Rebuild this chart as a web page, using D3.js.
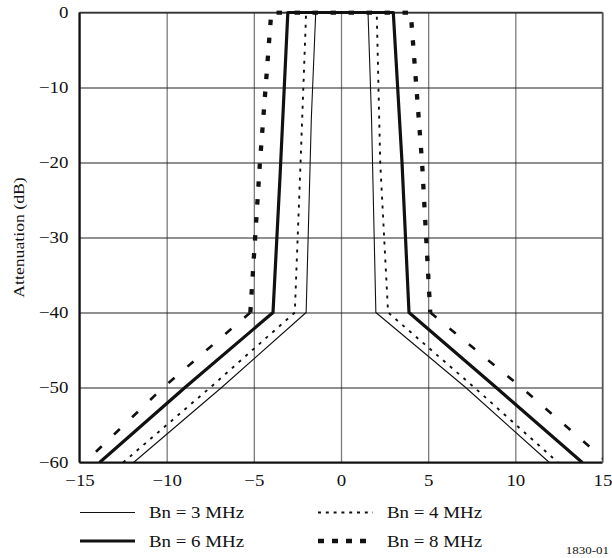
<!DOCTYPE html>
<html>
<head>
<meta charset="utf-8">
<script src="https://cdn.jsdelivr.net/npm/d3@7"></script>
<style>
  body { margin: 0; background: #fff; }
</style>
</head>
<body>
<svg width="612" height="558"></svg>
<script>
// frequency offset (MHz) and attenuation (dB)
var xTicks = [-15, -10, -5, 0, 5, 10, 15];
var yTicks = [0, -10, -20, -30, -40, -50, -60];

var bn3X = [-11.9, -6.85, -2.0, -1.7, -1.45, 1.55, 1.75, 2.0, 7.15, 11.95];
var bn3Y = [-60, -50, -40, -14, 0, 0, -14, -40, -50, -60];

var bn4X = [-12.5, -7.5, -2.65, -2.32, -2.0, 2.05, 2.25, 2.7, 7.65, 12.45];
var bn4Y = [-60, -50, -40, -20, 0, 0, -20, -40, -50, -60];

var bn6X = [-13.85, -8.95, -3.9, -3.5, -3.05, 3.0, 3.5, 3.9, 8.9, 13.84];
var bn6Y = [-60, -50, -40, -22, 0, 0, -20, -40, -50, -60];

var bn8X = [-14.7, -10.2, -5.2, -4.65, -4.0, 4.0, 4.65, 5.12, 10.35, 15.3];
var bn8Y = [-60, -50, -40, -20, 0, 0, -20, -40, -50, -60];

var legendLabels = ["Bn = 3 MHz", "Bn = 4 MHz", "Bn = 6 MHz", "Bn = 8 MHz"];

var FONT = "'Liberation Serif', 'Times New Roman', Times, serif";
var svg = d3.select("svg").style("font-family", FONT);
var pLeft = 79.5, pRight = 602.5, pTop = 12.5, pBottom = 462.5;

var x = d3.scaleLinear().domain([-15, 15]).range([pLeft, pRight]);
var y = d3.scaleLinear().domain([-60, 0]).range([pBottom, pTop]);

function fmt(d) { return d < 0 ? "\u2212" + (-d) : d; }

// grid + tick labels
var gx = svg.append("g")
    .attr("transform", "translate(0," + pBottom + ")")
    .call(d3.axisBottom(x).tickValues(xTicks).tickSize(-(pBottom - pTop)).tickFormat(fmt));
gx.select(".domain").remove();
gx.selectAll("line").attr("stroke", "#7a7a7a").attr("stroke-width", 1.3);
gx.selectAll("text").attr("y", 8).attr("dy", "0.95em").style("font-size", "16px");

var gy = svg.append("g")
    .attr("transform", "translate(" + pLeft + ",0)")
    .call(d3.axisLeft(y).tickValues(yTicks).tickSize(-(pRight - pLeft)).tickFormat(fmt));
gy.select(".domain").remove();
gy.selectAll("line").attr("stroke", "#222").attr("stroke-width", 1.2);
gy.selectAll("text").attr("x", -11).style("font-size", "16px");

// frame
svg.append("line").attr("x1", pLeft).attr("x2", pLeft).attr("y1", pTop).attr("y2", pBottom)
    .attr("stroke", "#111").attr("stroke-width", 2.2);
svg.append("line").attr("x1", pLeft).attr("x2", pRight).attr("y1", pBottom).attr("y2", pBottom)
    .attr("stroke", "#111").attr("stroke-width", 2.2);
svg.append("line").attr("x1", pLeft).attr("x2", pRight).attr("y1", pTop).attr("y2", pTop)
    .attr("stroke", "#333").attr("stroke-width", 1.6);
svg.append("line").attr("x1", pRight).attr("x2", pRight).attr("y1", pTop).attr("y2", pBottom)
    .attr("stroke", "#555").attr("stroke-width", 1.4);

svg.append("text")
    .attr("transform", "translate(24," + ((pTop + pBottom) / 2) + ") rotate(-90)")
    .attr("text-anchor", "middle")
    .style("font-size", "15px")
    .text("Attenuation (dB)");

svg.append("clipPath").attr("id", "plot")
  .append("rect").attr("x", pLeft).attr("y", pTop - 2).attr("width", pRight - pLeft).attr("height", pBottom - pTop + 2);

var line = d3.line().x(function(d) { return x(d[0]); }).y(function(d) { return y(d[1]); });
var plot = svg.append("g").attr("clip-path", "url(#plot)");

function pts(xs, ys, from, to) {
  return d3.range(from, to + 1).map(function(i) { return [xs[i], ys[i]]; });
}

function curve(data, width, dash) {
  plot.append("path").datum(data)
      .attr("d", line)
      .attr("fill", "none")
      .attr("stroke", "#111")
      .attr("stroke-width", width)
      .attr("stroke-dasharray", dash)
      .attr("stroke-linejoin", "round");
}

curve(pts(bn3X, bn3Y, 0, 9), 1.1, null);
curve(pts(bn4X, bn4Y, 0, 9), 1.9, "3,6");
curve(pts(bn6X, bn6Y, 0, 9), 3.2, null);
// 8 MHz: heavy blocks on the steep part, lighter dashes on the skirts
curve(pts(bn8X, bn8Y, 2, 7), 4.3, "5.5,12.5");
curve(pts(bn8X, bn8Y, 0, 2).reverse(), 2.6, "8,17");
curve(pts(bn8X, bn8Y, 7, 9), 2.6, "8,17");

// legend
var legStyles = [
  {w: 1.1, dash: null, col: 0, row: 0},
  {w: 1.9, dash: "3,4.8", col: 1, row: 0},
  {w: 3.2, dash: null, col: 0, row: 1},
  {w: 4.5, dash: "6,8", col: 1, row: 1}
];
var colX = [80, 318], rowY = [512.5, 541];
legendLabels.forEach(function(lab, i) {
  var s = legStyles[i];
  var x0 = colX[s.col], yy = rowY[s.row];
  svg.append("line").attr("x1", x0).attr("x2", x0 + 55).attr("y1", yy).attr("y2", yy)
      .attr("stroke", "#111").attr("stroke-width", s.w).attr("stroke-dasharray", s.dash);
  svg.append("text").attr("x", x0 + 69).attr("y", yy + 5.5)
      .style("font-size", "16px").text(lab);
});

svg.append("text").attr("x", 609).attr("y", 554).attr("text-anchor", "end")
    .style("font-size", "11px").text("1830-01");

// the original lettering is set a little wider than Times; stretch to match
svg.selectAll("text")
    .style("font-family", FONT)
    .attr("fill", "#111")
    .each(function() {
      var w = this.getComputedTextLength();
      d3.select(this).attr("textLength", w * 1.18).attr("lengthAdjust", "spacingAndGlyphs");
    });
</script>
</body>
</html>
